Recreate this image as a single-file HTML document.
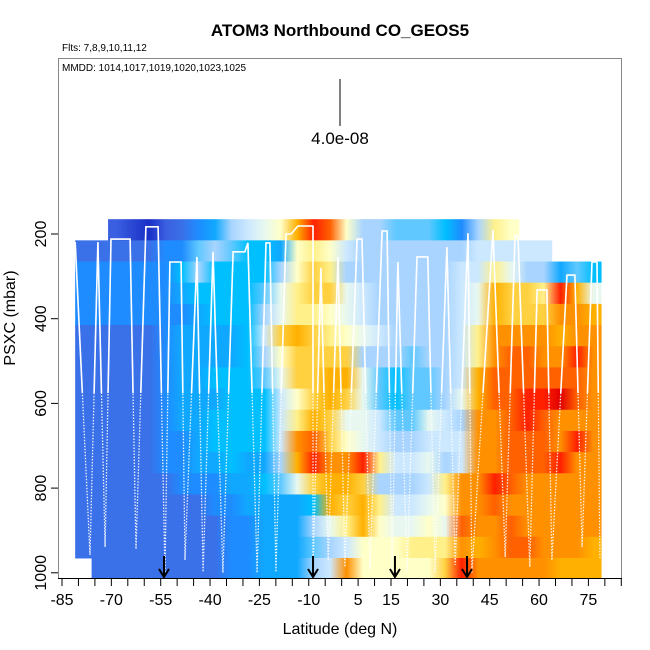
<!DOCTYPE html>
<html><head><meta charset="utf-8"><style>
html,body{margin:0;padding:0;background:#fff;}
svg{display:block;font-family:"Liberation Sans",Arial,sans-serif;}
</style></head><body>
<svg id="chart" width="650" height="650" viewBox="0 0 650 650">
<defs id="defs"><clipPath id="plotclip"><rect x="58" y="58" width="564" height="520"/></clipPath>
<clipPath id="upperclip"><rect x="58" y="58" width="564" height="335"/></clipPath></defs>
<g id="heat" clip-path="url(#plotclip)"></g>
<g id="track" clip-path="url(#plotclip)"></g>
<g id="arrows"></g>
<rect x="58.5" y="58.5" width="563" height="520" fill="none" stroke="#888" stroke-width="1"/>
<line x1="58" y1="578.5" x2="622" y2="578.5" stroke="#000" stroke-width="1"/>
<g id="xaxis"></g>
<g id="yaxis"></g>
<text x="340" y="36" text-anchor="middle" font-size="17" font-weight="bold">ATOM3 Northbound CO_GEOS5</text>
<text x="62" y="51" font-size="10">Flts: 7,8,9,10,11,12</text>
<text x="62" y="71" font-size="10">MMDD: 1014,1017,1019,1020,1023,1025</text>
<line x1="340" y1="79" x2="340" y2="126" stroke="#000" stroke-width="1"/>
<text x="340" y="144" text-anchor="middle" font-size="17">4.0e-08</text>
<text x="340" y="634" text-anchor="middle" font-size="16">Latitude (deg N)</text>
<text transform="translate(15,318) rotate(-90)" text-anchor="middle" font-size="16">PSXC (mbar)</text>
</svg>
<script>
const colLat=[-78.5,-73.5,-68.5,-63.5,-58.5,-53.5,-48.5,-43.5,-38.5,-33.5,-28.5,-23.5,-18.5,-13.5,-8.5,-3.5,1.5,6.5,11.5,16.5,21.5,26.5,31.5,36.5,41.5,46.5,51.5,56.5,61.5,66.5,71.5,76.5];
const rowP=[190,240,290,340,390,440,490,540,590,640,690,740,790,840,890,940,990];
const N=null;
const row0=[N,N,2,1.5,1,2,2.5,3,3.5,5,5.5,6,6.5,8,9.5,9,6.5,5,5,4.5,4.5,4.5,4,3,5,7,6.5,N,N,N,N,N];
const row1=[2.5,2.5,2.5,2.5,2.5,3,3,4.5,5,4.5,4,4,3.5,6.5,7,6.5,5.5,5,5,5,5,5,5,5,5.5,5.5,5.5,5.5,5.5,N,N,N];
const row2=[3,3,3,3,3,3,4,5,4,4,4,4,5,6.5,7.5,7,5,5,5,5,5,5,5,5.5,5.5,7,6,5,5,3.5,4.5,4];
const row3=[3,3,3,3,3,3,3.5,4,4,4,4,4.5,6,7,7.5,7.5,6,5.5,5,5,5,5,5,5.5,6,8,7.5,7.5,7,9.5,8,6];
const row4=[3,3,3,3,3,3,3,3.5,4,4,4,5,6,7,7,6.5,6,5.5,5,5,5,5,5,5.5,6,8,7.5,7.5,7.5,8.5,8.5,8];
const row5=[2.5,2.5,2.5,2.5,2.5,3,3.5,3.5,3.5,3.5,4,5.5,7.5,8,7.5,7,6.5,6,5.5,5,5,5,5,5.5,7,8.5,8.5,8.5,8.5,8,8.5,8.5];
const row6=[2.5,2.5,2.5,2.5,2.5,3,3.5,3.5,3.5,3.5,4,5,6.5,7.5,7.5,7.5,7.5,5,5,5,4.5,5,5,5.5,7,8.5,9,9,8.5,8.5,9.5,8.5];
const row7=[2.5,2.5,2.5,2.5,2.5,3,3.5,3.5,4,4,4,4.5,6,7.5,7.5,8,8,6,4.5,4,4.5,4.5,5,5.5,8,9,9,9,9,9,9,8.5];
const row8=[2.5,2.5,2.5,2.5,2.5,3,3.5,3.5,3.5,4,4,4,5.5,6.5,7.5,8,7.5,6,4.5,4,4.5,4.5,5,6,8,9,9,9.5,9.5,10,9,8.5];
const row9=[2.5,2.5,2.5,2.5,2.5,3,3.5,3.5,4,4,4,4,5.5,7,8,7.5,6,6,5.5,4.5,4.5,6,5.5,5,8.5,8.5,9,9.5,9,8.5,8.5,8.5];
const row10=[2.5,2.5,2.5,2.5,2.5,3,3,3.5,4,4,4,4,5.5,8.5,9,7.5,6.5,6,5.5,5,5,5.5,5.5,5.5,8.5,8.5,9,9,9,8.5,9.5,8.5];
const row11=[2.5,2.5,2.5,2.5,2.5,3,3,3.5,3.5,4,3.5,3.5,5,8,9.5,8.5,8.5,9.5,7,5.5,5.5,6,5,5.5,8.5,8.5,9,9,9,9.5,8.5,8.5];
const row12=[2.5,2.5,2.5,2.5,2.5,2.5,3,3,3,3.5,3.5,4,4.5,6,7.5,8,8,7.5,5,5,5,5.5,7,8.5,8.5,9.5,9,8.5,8.5,8.5,8.5,8.5];
const row13=[2.5,2.5,2.5,2.5,2.5,2.5,2.5,2.5,3,3,3.5,3.5,3.5,3.5,4,8,7.5,8,7,5.5,5.5,6,6.5,8.5,8.5,9,8.5,8.5,8.5,8.5,8.5,8.5];
const row14=[2.5,2.5,2.5,2.5,2.5,2.5,2.5,2.5,2.5,3,3,3.5,3.5,3.5,5,6,7,8,6.5,6,6,6.5,6,9,8.5,8.5,9,8.5,8.5,8.5,8.5,8.5];
const row15=[2.5,2.5,2.5,2.5,2.5,2.5,2.5,2.5,2.5,3,3,3.5,3.5,3.5,4.5,5,5.5,6.5,6.5,6.5,7,7,7,8.5,8,8.5,9,9,8.5,8.5,8.5,8];
const row16=[N,2.5,2.5,2.5,2.5,2.5,2.5,2.5,2.5,3,3,3.5,3.5,3.5,5,5.5,8.5,6.5,6.5,6.5,6.5,6.5,7.5,9.5,8.5,8.5,8.5,8.5,8.5,8,8,8];
const rows=[row0,row1,row2,row3,row4,row5,row6,row7,row8,row9,row10,row11,row12,row13,row14,row15,row16];
const trackLat=[-81,-76.5,-74.1,-71.9,-70.1,-64.3,-62.5,-59.5,-55.8,-53.7,-52.2,-48.8,-47.6,-44,-42.1,-39.1,-36.1,-33,-29.4,-28.5,-25.7,-23,-21.8,-20,-16.9,-15.4,-13.3,-8.7,-8.7,-6.3,-4.1,-1.1,1,4.7,6.2,8.6,12.3,13.8,15.3,17.1,19.9,22.9,26.2,28.4,32,34.5,38.4,39.6,46,49.7,52.7,53.6,57.2,59.4,62.4,63.9,68.5,70.9,73.1,76.1,77.6,78.5];
const trackP=[219,958,219,939,212,212,944,183,183,1000,266,266,970,254,998,242,1000,242,242,221,1000,221,221,998,200,200,181,181,1000,280,970,254,986,212,212,993,193,193,1000,266,998,254,254,1000,231,981,198,1000,191,963,205,205,986,332,332,970,297,297,939,266,266,965];
const arrowLat=[-54,-8.7,16.2,38.1];
const xTicks=[-85,-80,-75,-70,-65,-60,-55,-50,-45,-40,-35,-30,-25,-20,-15,-10,-5,0,5,10,15,20,25,30,35,40,45,50,55,60,65,70,75,80,85];
const xLabels=[-85,-70,-55,-40,-25,-10,5,15,30,45,60,75];
const yTicks=[200,400,600,800,1000];

const NS='http://www.w3.org/2000/svg';
const X=lat=>62+(lat+85)*3.29;
const Y=p=>234+(p-200)*0.4235;
const stops=[[0,'#00008b'],[1,'#1a2fc8'],[2,'#3a5fe0'],[2.5,'#3a70e8'],[3,'#1e8cff'],[3.5,'#10a8ff'],[4,'#00bfff'],[4.5,'#60c8ff'],[5,'#a8d4ff'],[5.5,'#cce8ff'],[6,'#e8f8f0'],[6.5,'#ffffc8'],[7,'#fff08a'],[7.5,'#ffd040'],[8,'#ffb000'],[8.5,'#ff9000'],[9,'#ff6000'],[9.5,'#ff2000'],[10,'#e00000'],[11,'#a00000']];
function hex(h){return [1,3,5].map(i=>parseInt(h.substr(i,2),16));}
function color(v){for(let i=1;i<stops.length;i++){if(v<=stops[i][0]){const a=stops[i-1],b=stops[i];const t=(v-a[0])/(b[0]-a[0]);const A=hex(a[1]),B=hex(b[1]);return 'rgb('+A.map((c,j)=>Math.round(c+(B[j]-c)*t)).join(',')+')';}}return stops[stops.length-1][1];}
function mk(tag,attrs,parent){const e=document.createElementNS(NS,tag);for(const k in attrs)e.setAttribute(k,attrs[k]);parent.appendChild(e);return e;}

const heat=document.getElementById('heat');
const defs=document.getElementById('defs');
rows.forEach((r,ri)=>{
  let first=r.findIndex(v=>v!==null);let last=r.length-1;while(r[last]===null)last--;
  const x0=X(colLat[first]-2.5),x1=X(colLat[last]+2.5);
  const gid='g'+ri;
  const lg=mk('linearGradient',{id:gid,gradientUnits:'userSpaceOnUse',x1:x0,y1:0,x2:x1,y2:0},defs);
  for(let ci=first;ci<=last;ci++){const v=r[ci];if(v===null)continue;
    mk('stop',{offset:((X(colLat[ci])-x0)/(x1-x0)).toFixed(4),'stop-color':color(v)},lg);}
  const y0=Y(rowP[ri]-25),y1=Y(rowP[ri]+25);
  const c=mk('rect',{x:x0.toFixed(2),y:y0.toFixed(2),width:(x1-x0).toFixed(2),height:(y1-y0+0.5).toFixed(2),fill:'url(#'+gid+')'},heat);
  
  
});

const track=document.getElementById('track');
const pts=trackLat.map((l,i)=>X(l).toFixed(1)+','+Y(trackP[i]).toFixed(1)).join(' ');
const dl=mk('polyline',{points:pts,fill:'none',stroke:'#fff','stroke-width':'1.3','stroke-dasharray':'1.5,1.5','stroke-opacity':'0.9'},track);


const sl=mk('polyline',{points:pts,fill:'none',stroke:'#fff','stroke-width':'1.6','clip-path':'url(#upperclip)'},track);



const arrows=document.getElementById('arrows');
arrowLat.forEach(l=>{const x=X(l);
const g=mk('g',{},arrows);


mk('line',{x1:x,y1:556,x2:x,y2:577,stroke:'#000','stroke-width':'2'},g);
mk('polyline',{points:(x-5)+',569 '+x+',577 '+(x+5)+',569',fill:'none',stroke:'#000','stroke-width':'2'},g);});

const xa=document.getElementById('xaxis');
xTicks.forEach(t=>{const tk=mk('line',{x1:X(t),y1:578,x2:X(t),y2:586,stroke:'#000'},xa);

});
xLabels.forEach(t=>{const tx=mk('text',{x:X(t),y:605,'text-anchor':'middle','font-size':'16'},xa);tx.textContent=t;

});
const ya=document.getElementById('yaxis');
yTicks.forEach(t=>{const y=Y(t);const tk=mk('line',{x1:51,y1:y,x2:58,y2:y,stroke:'#000'},ya);


const tx=mk('text',{transform:'translate(46,'+y+') rotate(-90)','text-anchor':'middle','font-size':'16'},ya);tx.textContent=t;

});
</script>
</body></html>
